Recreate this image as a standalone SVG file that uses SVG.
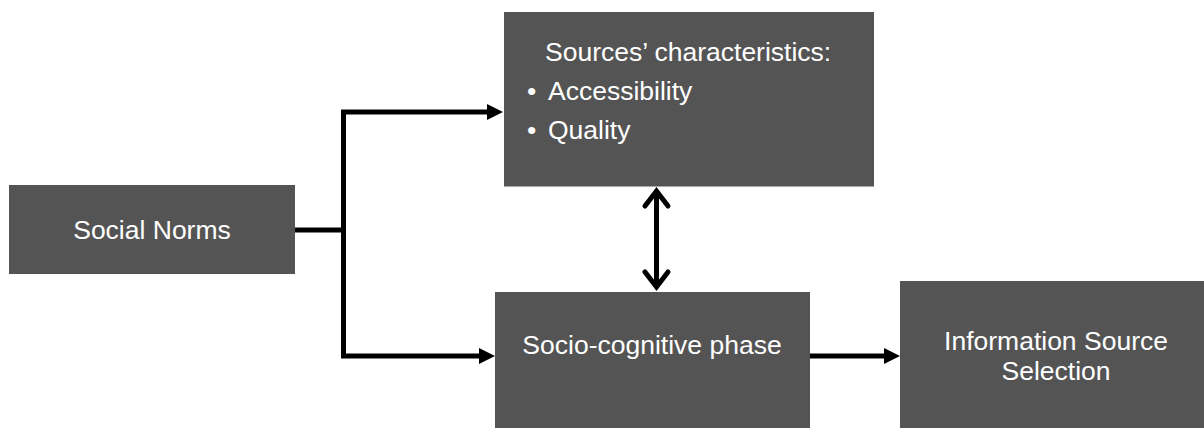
<svg xmlns="http://www.w3.org/2000/svg" width="1204" height="428" viewBox="0 0 1204 428">
  <style>
    .box { fill: #545454; }
    .lbl { font-family: "Liberation Sans", Arial, sans-serif; font-size: 26.5px; fill: #ffffff; }
    .mid { text-anchor: middle; }
    .wire { fill: none; stroke: #000000; stroke-width: 5; stroke-linejoin: miter; }
    .chev { fill: none; stroke: #000000; stroke-width: 5; stroke-linejoin: miter; stroke-linecap: round; }
  </style>
  <defs>
    <marker id="arrow" viewBox="0 0 16 16" refX="2" refY="8" markerWidth="16" markerHeight="16" markerUnits="userSpaceOnUse" orient="auto">
      <path d="M0,0 L16,8 L0,16 z" fill="#000000"/>
    </marker>
  </defs>
  <rect width="1204" height="428" fill="#ffffff"/>

  <g id="connectors">
    <path class="wire" d="M295,230 H343.5"/>
    <path class="wire" d="M343.5,232 V112 H489" marker-end="url(#arrow)"/>
    <path class="wire" d="M343.5,228 V356 H481" marker-end="url(#arrow)"/>
    <path class="wire" d="M810,356 H886" marker-end="url(#arrow)"/>
    <line class="wire" x1="656.5" y1="192" x2="656.5" y2="287"/>
    <polyline class="chev" points="645,206 656.5,191 668,206"/>
    <polyline class="chev" points="645,272 656.5,287 668,272"/>
  </g>

  <g id="social-norms">
    <rect class="box" x="9" y="185" width="286" height="89"/>
    <text class="lbl mid" x="152" y="239">Social Norms</text>
  </g>

  <g id="sources-characteristics">
    <rect class="box" x="504" y="12" width="370" height="174.5"/>
    <text class="lbl" x="545" y="60.5">Sources’ characteristics:</text>
    <text class="lbl" x="527" y="99.5">•</text>
    <text class="lbl" x="548" y="99.5">Accessibility</text>
    <text class="lbl" x="527" y="138.5">•</text>
    <text class="lbl" x="548" y="138.5">Quality</text>
  </g>

  <g id="socio-cognitive-phase">
    <rect class="box" x="495" y="292" width="315" height="140"/>
    <text class="lbl mid" x="652" y="354">Socio-cognitive phase</text>
  </g>

  <g id="information-source-selection">
    <rect class="box" x="900" y="281" width="320" height="150"/>
    <text class="lbl mid" x="1056" y="350">Information Source</text>
    <text class="lbl mid" x="1056" y="380">Selection</text>
  </g>
</svg>
